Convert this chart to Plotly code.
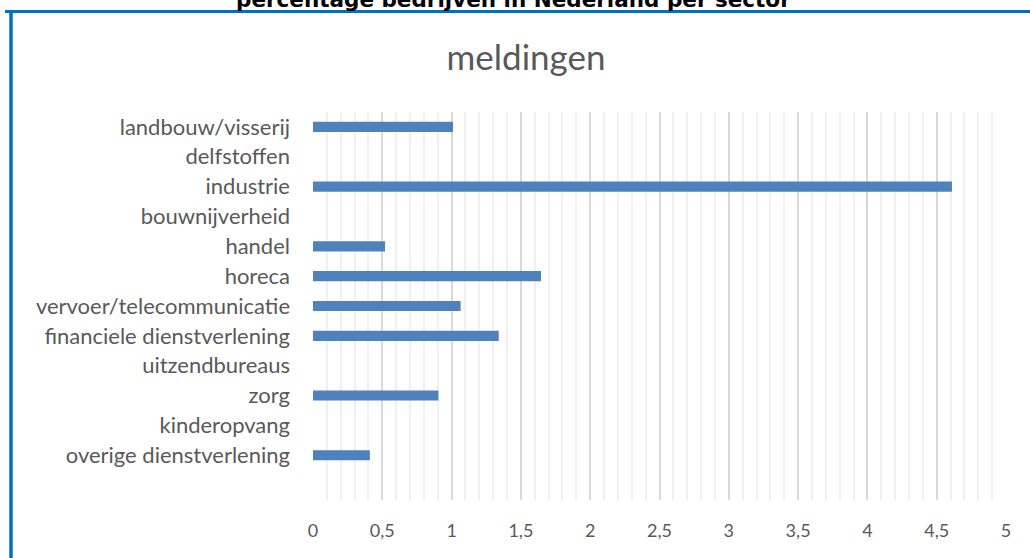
import plotly.graph_objects as go

categories = [
    "landbouw/visserij", "delfstoffen", "industrie", "bouwnijverheid", "handel",
    "horeca", "vervoer/telecommunicatie", "financiele dienstverlening",
    "uitzendbureaus", "zorg", "kinderopvang", "overige dienstverlening",
]
values = [1.01, 0, 4.61, 0, 0.52, 1.645, 1.065, 1.34, 0, 0.905, 0, 0.41]
x_ticks = [0, 0.5, 1, 1.5, 2, 2.5, 3, 3.5, 4, 4.5, 5]

W, H = 1030, 558
L, R, T, B = 313, 1006, 112, 500
pw, ph = R - L, B - T

def px(x):
    return (x - L) / pw

def py(y):
    return (B - y) / ph

fig = go.Figure(go.Bar(
    x=values, y=categories, orientation="h",
    marker=dict(color="#4F81BD", line=dict(width=0)),
    width=0.34,
    hoverinfo="x+y",
))

font_fam = "Lato, Open Sans, sans-serif"

fig.update_layout(
    width=W, height=H,
    margin=dict(l=L, r=W - R, t=T, b=H - B, pad=0),
    paper_bgcolor="white", plot_bgcolor="white",
    separators=", ",
    showlegend=False,
    title=dict(text="meldingen", x=526 / W, xref="container", xanchor="center",
               y=1 - 58 / H, yref="container", yanchor="middle",
               font=dict(family=font_fam, size=35, color="#595959")),
    xaxis=dict(range=[0, 5], tickvals=x_ticks, ticktext=[str(v).replace(".", ",") for v in x_ticks],
               showgrid=True, gridcolor="#D9D9D9", gridwidth=1.5,
               minor=dict(dtick=0.1, showgrid=True, gridcolor="#F0F0F0", gridwidth=1.5, ticks=""),
               zeroline=False, showline=False, ticks="",
               ticklabelstandoff=18,
               tickfont=dict(family=font_fam, size=18, color="#595959"), fixedrange=True),
    yaxis=dict(categoryorder="array", categoryarray=categories,
               range=[12.5, -0.5], showgrid=False, zeroline=False, showline=False,
               ticks="", ticklabelstandoff=22,
               tickfont=dict(family=font_fam, size=22, color="#595959"), fixedrange=True),
    shapes=[
        dict(type="line", xref="paper", yref="paper", x0=px(5), x1=px(1040), y0=py(11.5), y1=py(11.5),
             line=dict(color="#0070C0", width=3)),
        dict(type="line", xref="paper", yref="paper", x0=px(11), x1=px(11), y0=py(10), y1=py(570),
             line=dict(color="#0070C0", width=3.5)),
    ],
    annotations=[
        dict(text="<b>percentage bedrijven in Nederland per sector</b>", xref="paper", yref="paper",
             x=px(513), y=py(0), xanchor="center", yanchor="middle", showarrow=False,
             font=dict(family="DejaVu Sans", size=21.5, color="#000000")),
    ],
)

fig.write_html("out.html", config={"displayModeBar": False},
               post_script="document.body.style.margin='0';")
